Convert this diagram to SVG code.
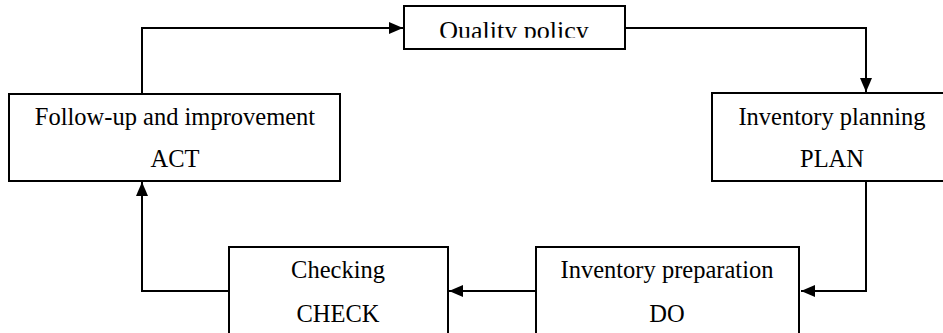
<svg xmlns="http://www.w3.org/2000/svg" width="943" height="333" viewBox="0 0 943 333">
<style>
.box{fill:#fff;stroke:#000;stroke-width:2}
.t{font-family:"Liberation Serif","Times New Roman",serif;font-size:24.5px;fill:#000;text-anchor:middle}
.c{fill:none;stroke:#000;stroke-width:2}
</style>
<defs>
<marker id="ah" viewBox="0 0 14 12" refX="14" refY="6" markerWidth="14" markerHeight="12" markerUnits="userSpaceOnUse" orient="auto">
<path d="M0,0 L14,6 L0,12 Z" fill="#000"/>
</marker>
<clipPath id="qclip"><rect x="404" y="6" width="221" height="31.8"/></clipPath>
</defs>
<rect width="943" height="333" fill="#fff"/>
<g id="connectors">
<path class="c" d="M142,94 V28 H403" marker-end="url(#ah)"/>
<path class="c" d="M625,28 H866 V92" marker-end="url(#ah)"/>
<path class="c" d="M866,181 V291 H801" marker-end="url(#ah)"/>
<path class="c" d="M536,291 H449" marker-end="url(#ah)"/>
<path class="c" d="M229,291 H142 V182" marker-end="url(#ah)"/>
</g>
<g id="quality">
<rect class="box" x="404" y="6" width="221" height="43"/>
<text class="t" x="514" y="38.5" style="font-size:26px" clip-path="url(#qclip)">Quality policy</text>
</g>
<g id="plan">
<rect class="box" x="712" y="93" width="240" height="88"/>
<text class="t" x="832" y="125">Inventory planning</text>
<text class="t" x="832" y="167">PLAN</text>
</g>
<g id="do">
<rect class="box" x="536" y="247" width="263" height="100"/>
<text class="t" x="667" y="278">Inventory preparation</text>
<text class="t" x="667" y="322">DO</text>
</g>
<g id="check">
<rect class="box" x="229" y="247" width="219" height="100"/>
<text class="t" x="338" y="278">Checking</text>
<text class="t" x="338" y="322">CHECK</text>
</g>
<g id="act">
<rect class="box" x="9" y="94" width="331" height="87"/>
<text class="t" x="175" y="125">Follow-up and improvement</text>
<text class="t" x="175" y="167">ACT</text>
</g>
</svg>
